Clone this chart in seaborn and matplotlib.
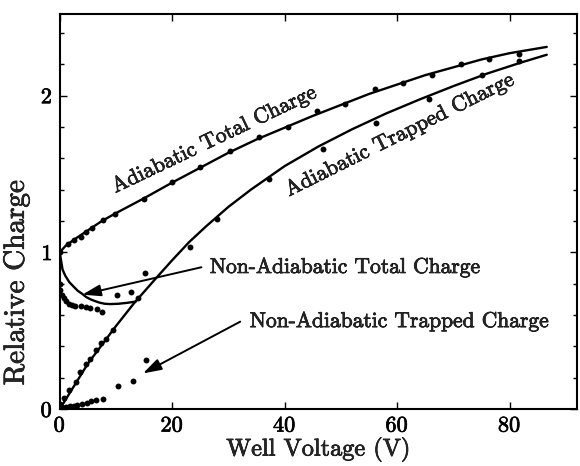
import numpy as np
import pandas as pd
import matplotlib
matplotlib.use("Agg")
import matplotlib.pyplot as plt
import matplotlib.patheffects as pe
from matplotlib.ticker import MultipleLocator
import seaborn as sns

# ---- data ----
adi_total_pts_v = [0, 1.4, 2.6, 3.8, 4.7, 5.7, 7.7, 9.8, 14.9, 20.0, 25.0, 30.3, 35.4, 40.6,
                   45.8, 50.8, 56.1, 61.1, 66.2, 71.3, 76.4, 81.6]
adi_total_pts_q = [1.0, 1.054, 1.08, 1.10, 1.13, 1.158, 1.208, 1.246, 1.34, 1.446, 1.546, 1.649,
                   1.733, 1.80, 1.90, 1.946, 2.043, 2.081, 2.134, 2.203, 2.23, 2.262]
adi_total_fit_v = [0, 1, 2.5, 5, 7.5, 10, 15, 20, 25, 30, 35, 40, 45, 50, 55, 60, 65, 70, 75, 80, 86.6]
adi_total_fit_q = [1.0, 1.04, 1.08, 1.14, 1.20, 1.25, 1.345, 1.445, 1.54, 1.635, 1.72, 1.795,
                   1.87, 1.94, 2.01, 2.07, 2.13, 2.18, 2.23, 2.27, 2.31]

adi_trap_pts_v = [0.1, 0.7, 1.6, 2.9, 3.6, 4.6, 5.4, 6.4, 7.4, 8.2, 9.5, 13.9, 23.2, 27.9, 37.3,
                  46.8, 56.3, 65.7, 75.1, 81.6]
adi_trap_pts_q = [0.03, 0.07, 0.12, 0.175, 0.24, 0.29, 0.32, 0.377, 0.42, 0.45, 0.505, 0.707,
                  1.037, 1.212, 1.468, 1.66, 1.825, 1.98, 2.134, 2.22]
adi_trap_fit_v = [0, 5, 10, 13.2, 17, 20, 23, 26, 30, 34, 40, 46, 52, 58, 64, 70, 76, 82, 86.6]
adi_trap_fit_q = [0, 0.29, 0.53, 0.675, 0.83, 0.95, 1.065, 1.165, 1.29, 1.40, 1.55, 1.675,
                  1.785, 1.885, 1.975, 2.06, 2.14, 2.21, 2.26]

non_total_pts_v = [0, 0.1, 0.4, 0.7, 1.2, 1.6, 2.2, 2.8, 3.7, 4.6, 5.4, 6.7, 7.6, 10.1, 12.7, 15.1]
non_total_pts_q = [0.80, 0.76, 0.73, 0.71, 0.69, 0.67, 0.665, 0.66, 0.658, 0.652, 0.647, 0.64,
                   0.62, 0.725, 0.745, 0.867]
non_total_fit_v = [0, 0.5, 1.0, 1.7, 2.5, 3.2, 4.0, 4.7, 5.5, 6.2, 7.0, 8.0, 9.0, 10.4, 12.0, 13.5]
non_total_fit_q = [1.0, 0.89, 0.85, 0.81, 0.78, 0.755, 0.735, 0.715, 0.70, 0.69, 0.68, 0.672,
                   0.67, 0.672, 0.678, 0.686]

non_trap_pts_v = [0.0, 0.4, 1.2, 1.9, 2.6, 3.1, 4.0, 4.9, 5.6, 6.4, 7.7, 10.4, 13.0, 15.4]
non_trap_pts_q = [0.0, 0.015, 0.015, 0.02, 0.022, 0.026, 0.03, 0.04, 0.05, 0.058, 0.062,
                  0.147, 0.179, 0.313]

x_ticks = [0, 20, 40, 60, 80]
y_ticks = [0, 1, 2]

# ---- style ----
sns.set_style("ticks")
plt.rcParams["font.family"] = ["cmr10", "DejaVu Serif"]
plt.rcParams["axes.formatter.use_mathtext"] = True
plt.rcParams["axes.unicode_minus"] = False

fig = plt.figure(figsize=(5.8, 4.66), dpi=100)
ax = fig.add_axes([0.103, 0.122, 0.892, 0.848])

line_kw = dict(color="black", linewidth=1.7, sort=False, estimator=None, legend=False, ax=ax)
dot_kw = dict(color="black", s=18, linewidth=0, marker="o", legend=False, ax=ax)

sns.lineplot(x=adi_total_fit_v, y=adi_total_fit_q, **line_kw)
sns.lineplot(x=adi_trap_fit_v, y=adi_trap_fit_q, **line_kw)
sns.lineplot(x=non_total_fit_v, y=non_total_fit_q, **line_kw)

sns.scatterplot(x=adi_total_pts_v, y=adi_total_pts_q, **dot_kw)
sns.scatterplot(x=adi_trap_pts_v, y=adi_trap_pts_q, **dot_kw)
sns.scatterplot(x=non_total_pts_v, y=non_total_pts_q, **dot_kw)
sns.scatterplot(x=non_trap_pts_v, y=non_trap_pts_q, **dot_kw)

ax.set_xlim(0, 92)
ax.set_ylim(0, 2.52)
ax.set_xticks(x_ticks)
ax.set_yticks(y_ticks)
ax.yaxis.set_minor_locator(MultipleLocator(0.2))
ax.tick_params(which="both", direction="in", top=True, right=True, colors="black",
               labelsize=16, width=1.0)
ax.tick_params(which="major", length=5)
ax.tick_params(which="minor", length=3)
ax.tick_params(axis="x", which="major", pad=5)
ax.tick_params(axis="y", which="major", pad=5)
for s in ax.spines.values():
    s.set_linewidth(1.5)
    s.set_color("black")

thick = [pe.withStroke(linewidth=0.5, foreground="black")]
for lab in ax.get_xticklabels() + ax.get_yticklabels():
    lab.set_path_effects(thick)

ax.set_xlabel("Well Voltage (V)", fontsize=17.5, labelpad=1, path_effects=thick)
ax.set_ylabel("Relative Charge", fontsize=21, path_effects=thick)
ax.yaxis.set_label_coords(-0.058, 0.32)

# annotations
tfs = 15.5
ax.text(27.5, 1.72, "Adiabatic Total Charge", rotation=25.5, fontsize=tfs,
        ha="center", va="center", rotation_mode="anchor", path_effects=thick)
ax.text(60.5, 1.75, "Adiabatic Trapped Charge", rotation=26.5, fontsize=tfs,
        ha="center", va="center", rotation_mode="anchor", path_effects=thick)
ax.text(26.7, 0.905, "Non-Adiabatic Total Charge", fontsize=tfs, ha="left", va="center",
        path_effects=thick)
ax.text(33.8, 0.56, "Non-Adiabatic Trapped Charge", fontsize=tfs, ha="left", va="center",
        path_effects=thick)

arrow_kw = dict(arrowstyle="-|>,head_length=0.7,head_width=0.22", color="black", lw=1.4,
                mutation_scale=16, shrinkA=0, shrinkB=0)
ax.annotate("", xy=(4.0, 0.73), xytext=(25.2, 0.905), arrowprops=arrow_kw)
ax.annotate("", xy=(14.8, 0.228), xytext=(32.1, 0.558), arrowprops=arrow_kw)

fig.savefig("out.png", dpi=100)
